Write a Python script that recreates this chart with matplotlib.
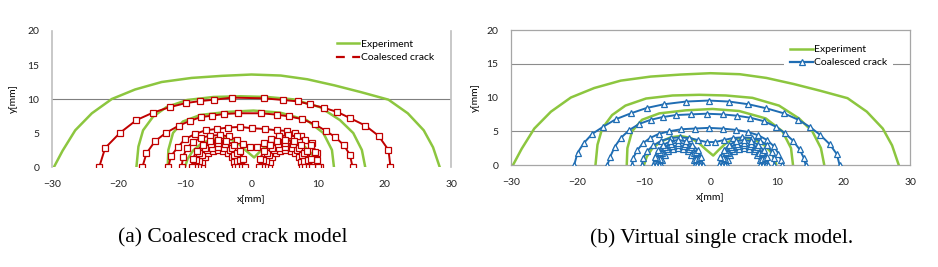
import matplotlib.pyplot as plt
from matplotlib.lines import Line2D

plt.rcParams['font.family'] = ['Lato', 'DejaVu Sans']

# ---- experiment crack fronts (green), same in both panels
exp1_x = [-29.7, -28.4, -26.5, -24.0, -21.0, -17.5, -13.5, -9.0, -4.5, 0.0, 4.4, 8.4, 12.5, 16.5, 20.6, 23.5, 25.9, 27.3, 28.3]
exp1_y = [0, 2.4, 5.4, 7.9, 10.0, 11.4, 12.5, 13.1, 13.4, 13.6, 13.45, 12.9, 12.0, 11.0, 9.9, 7.9, 5.4, 2.9, 0]
exp2_x = [-17.3, -17.0, -16.3, -14.8, -12.8, -9.7, -5.7, -1.7, 2.3, 6.3, 10.3, 13.3, 15.3, 16.6, 17.1]
exp2_y = [0, 3.0, 5.4, 7.4, 8.8, 9.85, 10.3, 10.4, 10.3, 9.95, 8.8, 6.9, 5.0, 2.5, 0]
exp3_x = [-12.6, -12.5, -11.8, -10.3, -7.7, -3.7, 0.3, 4.3, 8.3, 10.8, 12.1, 12.4]
exp3_y = [0, 2.5, 5.0, 6.7, 7.65, 8.1, 8.3, 8.0, 6.9, 5.0, 2.5, 0]
exp4_x = [-10.0, -9.6, -8.8, -7.6, -6.0, -4.5, -3.0, -1.8, -0.7, 0.4, 1.3, 2.4, 3.8, 5.2, 6.7, 8.0, 9.0, 9.6, 9.9]
exp4_y = [0, 1.2, 2.4, 3.4, 4.1, 4.3, 4.0, 3.3, 2.3, 1.4, 2.3, 3.3, 3.9, 4.0, 3.7, 3.0, 2.0, 1.0, 0]

# ---- (a) coalesced crack model (red squares)
redA_x = [-22.9, -22.0, -19.8, -17.3, -14.8, -12.3, -9.9, -7.7, -5.6, -2.9, 1.9, 4.8, 7.0, 8.8, 10.9, 12.9, 14.8, 17.1, 19.1, 20.6, 20.9]
redA_y = [0, 2.8, 5.0, 6.9, 8.0, 8.8, 9.4, 9.7, 9.9, 10.2, 10.1, 9.85, 9.65, 9.2, 8.7, 8.1, 7.2, 6.1, 4.6, 2.5, 0]
redB_x = [-16.4, -15.8, -14.5, -12.9, -10.9, -9.2, -7.6, -5.9, -4.1, -2.0, 1.4, 3.8, 5.6, 7.6, 9.5, 11.2, 12.6, 13.9, 14.8, 15.2]
redB_y = [0, 2.0, 3.8, 5.0, 6.1, 6.8, 7.35, 7.55, 7.8, 7.9, 7.9, 7.7, 7.45, 7.05, 6.3, 5.3, 4.4, 3.2, 1.8, 0]
redC_x = [-12.5, -12.1, -11.1, -10.0, -8.5, -6.9, -5.2, -3.5, -1.7, 0.1, 2.0, 3.8, 5.4, 6.5, 7.5, 9.1, 9.8, 10.3]
redC_y = [0, 1.6, 2.9, 4.1, 4.85, 5.4, 5.6, 5.8, 5.9, 5.7, 5.6, 5.4, 5.3, 4.95, 4.6, 3.5, 2.0, 0]
redD_x = [-10.5, -10.3, -9.7, -8.8, -7.6, -6.2, -4.8, -3.4, -2.2, -1.2, -0.2, 0.9, 1.9, 3.0, 4.2, 5.5, 6.8, 8.0, 8.9, 9.5, 9.8, 10.0]
redD_y = [0, 1.5, 2.8, 3.7, 4.3, 4.6, 4.7, 4.5, 4.0, 3.4, 3.0, 3.0, 3.5, 4.1, 4.5, 4.7, 4.5, 4.0, 3.2, 2.2, 1.1, 0]
# two separate fronts before coalescence (left lobe / right lobe)
red_l1_x = [-7.5, -7.38, -7.02, -6.47, -5.77, -5.0, -4.23, -3.53, -2.98, -2.62, -2.5]
red_l2_x = [-8.0, -7.85, -7.43, -6.76, -5.93, -5.0, -4.07, -3.24, -2.57, -2.15, -2.0]
red_l3_x = [-8.5, -8.33, -7.83, -7.06, -6.08, -5.0, -3.92, -2.94, -2.17, -1.67, -1.5]
red_l4_x = [-9.0, -8.8, -8.24, -7.35, -6.24, -5.0, -3.76, -2.65, -1.76, -1.2, -1.0]
red_r1_x = [2.6, 2.72, 3.08, 3.63, 4.33, 5.1, 5.87, 6.57, 7.12, 7.48, 7.6]
red_r2_x = [2.1, 2.25, 2.67, 3.34, 4.17, 5.1, 6.03, 6.86, 7.53, 7.95, 8.1]
red_r3_x = [1.6, 1.77, 2.27, 3.04, 4.02, 5.1, 6.18, 7.16, 7.93, 8.43, 8.6]
red_r4_x = [1.1, 1.3, 1.86, 2.75, 3.86, 5.1, 6.34, 7.45, 8.34, 8.9, 9.1]
red_1_y = [0, 0.77, 1.47, 2.02, 2.38, 2.5, 2.38, 2.02, 1.47, 0.77, 0]
red_2_y = [0, 0.93, 1.76, 2.43, 2.85, 3.0, 2.85, 2.43, 1.76, 0.93, 0]
red_3_y = [0, 1.08, 2.06, 2.83, 3.33, 3.5, 3.33, 2.83, 2.06, 1.08, 0]
red_4_y = [0, 1.24, 2.35, 3.24, 3.80, 4.0, 3.80, 3.24, 2.35, 1.24, 0]

# ---- (b) virtual single crack model (blue triangles)
bluA_x = [-20.5, -20.0, -19.1, -17.8, -16.1, -14.2, -12.0, -9.6, -7.0, -3.7, -0.3, 2.8, 5.7, 8.4, 11.05, 13.2, 15.0, 16.5, 17.9, 19.0, 19.4]
bluA_y = [0, 1.8, 3.2, 4.6, 5.7, 6.8, 7.65, 8.45, 9.0, 9.4, 9.55, 9.4, 9.0, 8.4, 7.65, 6.7, 5.6, 4.45, 3.1, 1.6, 0]
bluB_x = [-15.5, -15.1, -14.4, -13.5, -12.2, -10.7, -9.0, -7.2, -5.2, -3.0, -0.6, 1.8, 4.0, 6.0, 8.0, 9.8, 11.2, 12.4, 13.4, 14.0, 14.3]
bluB_y = [0, 1.2, 2.7, 4.0, 5.2, 6.1, 6.7, 7.1, 7.4, 7.5, 7.6, 7.5, 7.3, 7.0, 6.5, 5.7, 4.7, 3.6, 2.3, 1.1, 0]
bluC_x = [-11.8, -11.6, -11.0, -10.2, -9.1, -7.8, -6.2, -4.4, -2.4, -0.3, 1.8, 3.8, 5.6, 7.2, 8.5, 9.5, 10.2, 10.6, 10.8]
bluC_y = [0, 1.1, 2.2, 3.2, 4.0, 4.6, 5.0, 5.3, 5.4, 5.5, 5.4, 5.2, 4.9, 4.4, 3.7, 2.8, 1.7, 0.7, 0]
bluD_x = [-10.3, -10.1, -9.5, -8.6, -7.4, -6.0, -4.6, -3.2, -1.9, -0.6, 0.7, 2.0, 3.4, 4.8, 6.2, 7.5, 8.5, 9.2, 9.5, 9.6]
bluD_y = [0, 1.1, 2.1, 2.9, 3.6, 4.0, 4.1, 4.0, 3.7, 3.4, 3.4, 3.7, 4.0, 4.1, 4.0, 3.6, 2.9, 2.0, 1.0, 0]
blu_l1_x = [-7.4, -7.28, -6.92, -6.37, -5.67, -4.9, -4.13, -3.43, -2.88, -2.52, -2.4]
blu_l2_x = [-7.8, -7.66, -7.25, -6.61, -5.8, -4.9, -4.0, -3.19, -2.55, -2.14, -2.0]
blu_l3_x = [-8.2, -8.04, -7.57, -6.84, -5.92, -4.9, -3.88, -2.96, -2.23, -1.76, -1.6]
blu_l4_x = [-8.6, -8.42, -7.89, -7.08, -6.04, -4.9, -3.76, -2.72, -1.91, -1.38, -1.2]
blu_r1_x = [2.5, 2.62, 2.98, 3.53, 4.23, 5.0, 5.77, 6.47, 7.02, 7.38, 7.5]
blu_r2_x = [2.1, 2.24, 2.65, 3.29, 4.1, 5.0, 5.9, 6.71, 7.35, 7.76, 7.9]
blu_r3_x = [1.7, 1.86, 2.33, 3.06, 3.98, 5.0, 6.02, 6.94, 7.67, 8.14, 8.3]
blu_r4_x = [1.3, 1.48, 2.01, 2.82, 3.86, 5.0, 6.14, 7.18, 7.99, 8.52, 8.7]
blu_1_y = [0, 0.77, 1.47, 2.02, 2.38, 2.5, 2.38, 2.02, 1.47, 0.77, 0]
blu_2_y = [0, 0.90, 1.71, 2.35, 2.76, 2.9, 2.76, 2.35, 1.71, 0.90, 0]
blu_3_y = [0, 1.02, 1.94, 2.67, 3.14, 3.3, 3.14, 2.67, 1.94, 1.02, 0]
blu_4_y = [0, 1.14, 2.18, 2.99, 3.52, 3.7, 3.52, 2.99, 2.18, 1.14, 0]

x_ticks = [-30, -20, -10, 0, 10, 20, 30]
y_ticks = [0, 5, 10, 15, 20]

GREEN = '#8CC63F'
RED = '#C00000'
BLUE = '#1F6DB3'

exp_fronts = [(exp1_x, exp1_y), (exp2_x, exp2_y), (exp3_x, exp3_y), (exp4_x, exp4_y)]
red_fronts = [(redA_x, redA_y), (redB_x, redB_y), (redC_x, redC_y), (redD_x, redD_y),
              (red_l1_x, red_1_y), (red_l2_x, red_2_y), (red_l3_x, red_3_y), (red_l4_x, red_4_y),
              (red_r1_x, red_1_y), (red_r2_x, red_2_y), (red_r3_x, red_3_y), (red_r4_x, red_4_y)]
blu_fronts = [(bluA_x, bluA_y), (bluB_x, bluB_y), (bluC_x, bluC_y), (bluD_x, bluD_y),
              (blu_l1_x, blu_1_y), (blu_l2_x, blu_2_y), (blu_l3_x, blu_3_y), (blu_l4_x, blu_4_y),
              (blu_r1_x, blu_1_y), (blu_r2_x, blu_2_y), (blu_r3_x, blu_3_y), (blu_r4_x, blu_4_y)]

fig = plt.figure(figsize=(9.38, 2.67), dpi=100)
ax1 = fig.add_axes([0.0554, 0.3745, 0.4254, 0.5094])
ax2 = fig.add_axes([0.5448, 0.382, 0.4254, 0.5056])

for ax in (ax1, ax2):
    for x, y in exp_fronts:
        ax.plot(x, y, color=GREEN, lw=1.8, zorder=2)
    ax.set_xlim(-30, 30)
    ax.set_ylim(0, 20)
    ax.set_xticks(x_ticks)
    ax.set_yticks(y_ticks)
    ax.tick_params(length=0, labelsize=7.5, pad=9, colors='#222222')
    ax.set_xlabel('x[mm]', fontsize=7.5)
    ax.set_ylabel('y[mm]', fontsize=7.5)
    ax.xaxis.set_label_coords(0.5, -0.21)

for x, y in red_fronts:
    ax1.plot(x, y, color=RED, lw=1.4, marker='s', ms=4.8, mfc='white', mec=RED, mew=0.9, zorder=3)
for x, y in blu_fronts:
    ax2.plot(x, y, color=BLUE, lw=1.4, marker='^', ms=5, mfc='white', mec=BLUE, mew=0.9, zorder=3)

# left panel frame: only side lines and one grid line at 10
ax1.spines['top'].set_visible(False)
ax1.spines['bottom'].set_visible(False)
for s in ('left', 'right'):
    ax1.spines[s].set_color('#BFBFBF')
    ax1.spines[s].set_linewidth(1.2)
ax1.axhline(10, color='#7F7F7F', lw=0.8, zorder=1)
ax1.yaxis.set_label_coords(-0.085, 0.5)

# right panel frame: box plus grid lines
for s in ax2.spines.values():
    s.set_color('#A6A6A6')
    s.set_linewidth(0.9)
for g in (5, 15):
    ax2.axhline(g, color='#8C8C8C', lw=0.8, zorder=1)
ax2.yaxis.set_label_coords(-0.078, 0.5)

h_exp = Line2D([], [], color=GREEN, lw=1.8)
h_red = Line2D([], [], color=RED, lw=1.6, marker='s', ms=5, mfc='white', mec='white')
h_blu = Line2D([], [], color=BLUE, lw=1.6, marker='^', ms=5, mfc='white', mec=BLUE, mew=0.9)

leg1 = ax1.legend([h_exp, h_red], ['Experiment', 'Coalesced crack'], loc='upper left',
                  bbox_to_anchor=(0.695, 0.99), frameon=False, fontsize=7.5,
                  handlelength=2.2, handletextpad=0.1, labelspacing=0.4, borderpad=0.2)
leg2 = ax2.legend([h_exp, h_blu], ['Experiment', 'Coalesced crack'], loc='upper left',
                  bbox_to_anchor=(0.672, 0.97), frameon=True, fontsize=7.5,
                  handlelength=2.2, handletextpad=0.1, labelspacing=0.35, borderpad=0.55,
                  fancybox=False, framealpha=1)
leg2.get_frame().set_edgecolor('white')
leg2.get_frame().set_linewidth(0)
leg2.set_zorder(5)

fig.text(233 / 938, 1 - 238 / 267, '(a) Coalesced crack model', ha='center', va='center',
         fontsize=15.5, family='Liberation Serif')
fig.text(722 / 938, 1 - 238 / 267, '(b) Virtual single crack model.', ha='center', va='center',
         fontsize=15.5, family='Liberation Serif')

fig.savefig('out.png', dpi=100)
